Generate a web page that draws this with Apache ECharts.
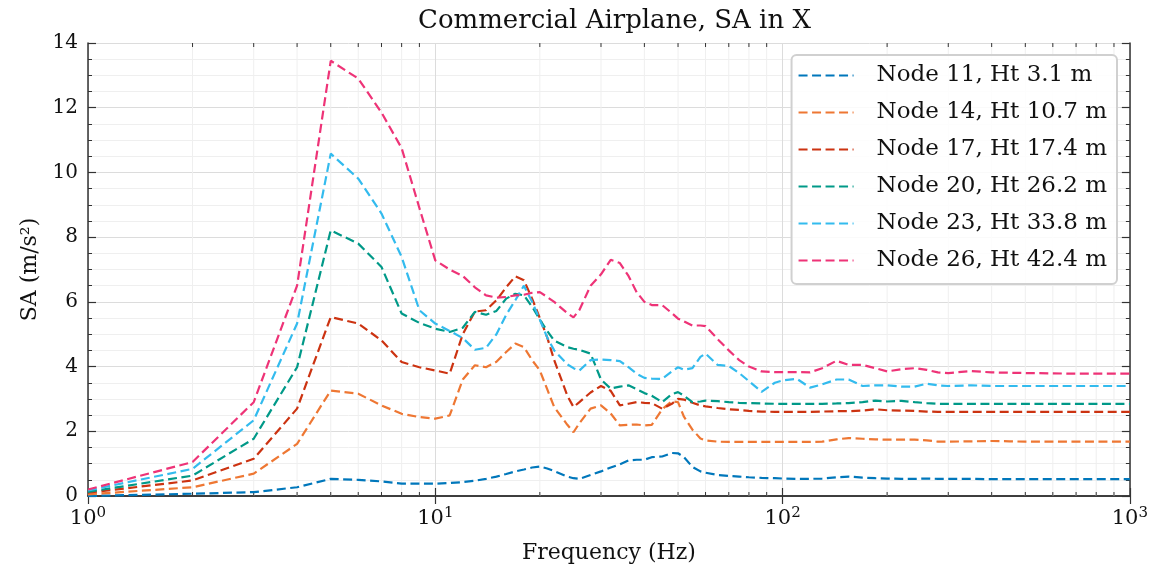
<!DOCTYPE html>
<html>
<head>
<meta charset="utf-8">
<script src="https://cdn.jsdelivr.net/npm/echarts@6/dist/echarts.min.js"></script>
<style>html,body{margin:0;padding:0;background:#fff}#c{width:1151px;height:571px}</style>
</head>
<body>
<div id="c"></div>
<script>
const freqs = [1, 2, 3, 4, 5, 6, 7, 8, 9, 10, 11, 12, 13, 14, 15, 16, 17, 18, 19, 20, 21, 22, 24, 25, 26, 28, 30, 32, 34, 36, 38, 40, 42, 45, 48, 50, 52, 55, 58, 60, 65, 70, 75, 80, 87, 95, 100, 110, 120, 130, 143, 155, 170, 185, 200, 220, 240, 260, 280, 300, 350, 400, 450, 500, 600, 700, 800, 900, 1000];

const node11 = [0.0, 0.07, 0.12, 0.27, 0.53, 0.50, 0.45, 0.38, 0.38, 0.38, 0.40, 0.43, 0.47, 0.53, 0.60, 0.68, 0.76, 0.82, 0.88, 0.91, 0.85, 0.77, 0.60, 0.55, 0.53, 0.65, 0.76, 0.88, 0.98, 1.10, 1.12, 1.12, 1.20, 1.22, 1.33, 1.32, 1.20, 0.90, 0.76, 0.72, 0.65, 0.62, 0.60, 0.58, 0.56, 0.55, 0.54, 0.53, 0.53, 0.54, 0.58, 0.60, 0.57, 0.55, 0.54, 0.53, 0.53, 0.54, 0.53, 0.53, 0.53, 0.52, 0.52, 0.52, 0.52, 0.52, 0.52, 0.52, 0.52];

const node14 = [0.05, 0.27, 0.69, 1.61, 3.26, 3.16, 2.80, 2.54, 2.44, 2.39, 2.49, 3.60, 4.04, 3.98, 4.15, 4.45, 4.71, 4.60, 4.20, 3.88, 3.30, 2.75, 2.20, 1.97, 2.25, 2.70, 2.80, 2.55, 2.18, 2.20, 2.21, 2.18, 2.20, 2.68, 2.93, 2.90, 2.45, 2.05, 1.78, 1.72, 1.68, 1.67, 1.67, 1.67, 1.67, 1.67, 1.67, 1.67, 1.67, 1.68, 1.75, 1.79, 1.77, 1.75, 1.74, 1.74, 1.74, 1.72, 1.68, 1.68, 1.69, 1.70, 1.69, 1.68, 1.68, 1.68, 1.68, 1.68, 1.68];

const node17 = [0.10, 0.48, 1.15, 2.70, 5.53, 5.33, 4.81, 4.14, 3.98, 3.88, 3.78, 5.00, 5.70, 5.74, 6.05, 6.45, 6.79, 6.67, 6.10, 5.50, 4.90, 4.20, 3.10, 2.75, 2.90, 3.20, 3.40, 3.25, 2.80, 2.85, 2.90, 2.88, 2.87, 2.70, 2.85, 3.00, 2.98, 2.88, 2.80, 2.77, 2.72, 2.68, 2.66, 2.63, 2.61, 2.60, 2.60, 2.60, 2.60, 2.61, 2.62, 2.62, 2.64, 2.68, 2.65, 2.64, 2.63, 2.61, 2.60, 2.60, 2.60, 2.60, 2.60, 2.60, 2.60, 2.60, 2.60, 2.60, 2.60];

const node20 = [0.13, 0.63, 1.77, 3.98, 8.21, 7.80, 7.08, 5.64, 5.35, 5.17, 5.07, 5.20, 5.69, 5.60, 5.72, 6.10, 6.25, 6.20, 5.85, 5.45, 5.10, 4.80, 4.60, 4.55, 4.52, 4.40, 3.60, 3.32, 3.38, 3.42, 3.30, 3.18, 3.10, 2.90, 3.15, 3.21, 3.10, 2.90, 2.92, 2.95, 2.93, 2.90, 2.88, 2.87, 2.86, 2.85, 2.85, 2.85, 2.85, 2.85, 2.86, 2.87, 2.90, 2.95, 2.92, 2.94, 2.90, 2.87, 2.85, 2.85, 2.85, 2.85, 2.85, 2.85, 2.85, 2.85, 2.85, 2.85, 2.85];

const node23 = [0.17, 0.84, 2.34, 5.33, 10.58, 9.81, 8.73, 7.39, 5.74, 5.33, 5.10, 4.88, 4.52, 4.58, 5.00, 5.60, 6.05, 6.50, 6.00, 5.45, 4.90, 4.50, 4.07, 3.95, 3.88, 4.20, 4.22, 4.20, 4.17, 3.98, 3.78, 3.65, 3.63, 3.62, 3.85, 3.98, 3.90, 3.95, 4.30, 4.40, 4.05, 4.02, 3.80, 3.55, 3.22, 3.50, 3.57, 3.62, 3.35, 3.45, 3.60, 3.60, 3.40, 3.42, 3.42, 3.38, 3.38, 3.47, 3.42, 3.40, 3.42, 3.40, 3.40, 3.40, 3.40, 3.40, 3.40, 3.40, 3.40];

const node26 = [0.20, 1.05, 2.90, 6.50, 13.45, 12.90, 11.85, 10.75, 8.90, 7.28, 7.00, 6.80, 6.45, 6.20, 6.13, 6.15, 6.20, 6.22, 6.28, 6.30, 6.15, 6.00, 5.65, 5.52, 5.75, 6.50, 6.85, 7.30, 7.20, 6.80, 6.30, 6.00, 5.90, 5.90, 5.65, 5.48, 5.40, 5.27, 5.27, 5.25, 4.85, 4.50, 4.20, 4.00, 3.85, 3.83, 3.83, 3.83, 3.82, 3.95, 4.18, 4.05, 4.05, 3.95, 3.85, 3.92, 3.95, 3.90, 3.82, 3.80, 3.86, 3.82, 3.81, 3.80, 3.79, 3.78, 3.78, 3.78, 3.78];

const seriesNames = ['Node 11, Ht 3.1 m', 'Node 14, Ht 10.7 m', 'Node 17, Ht 17.4 m', 'Node 20, Ht 26.2 m', 'Node 23, Ht 33.8 m', 'Node 26, Ht 42.4 m'];
const seriesValues = [node11, node14, node17, node20, node23, node26];
const colors = ['#0077BB', '#EE7733', '#CC3311', '#009988', '#33BBEE', '#EE3377'];

const titleText = 'Commercial Airplane, SA in X';
const xName = 'Frequency (Hz)';
const yName = 'SA (m/s\u00B2)';
const yMin = 0, yMax = 14, yStep = 2;
const xMin = 1, xMax = 1000;

const minorFreqs = [];
for (let d = 1; d < xMax; d *= 10) for (let k = 2; k <= 9; k++) minorFreqs.push(k * d);

const FONT = '"DejaVu Serif", "Liberation Serif", serif';

const lineSeries = seriesNames.map((name, i) => ({
  name: name,
  type: 'line',
  data: freqs.map((f, j) => [f, seriesValues[i][j]]),
  showSymbol: false,
  symbol: 'none',
  lineStyle: { color: colors[i], width: 2.2, type: [9, 4.5] },
  itemStyle: { color: colors[i] },
  z: 5,
  animation: false
}));

const minorSeries = {
  type: 'custom',
  silent: true,
  z: 1,
  data: minorFreqs.map(f => [f, 0]),
  encode: { x: 0, y: 1 },
  renderItem: function (params, api) {
    const f = api.value(0);
    const pb = api.coord([f, yMin]);
    const pt = api.coord([f, yMax]);
    return {
      type: 'group',
      children: [
        { type: 'line', shape: { x1: pb[0], y1: pb[1], x2: pt[0], y2: pt[1] }, style: { stroke: '#efefef', lineWidth: 1 } },
        { type: 'line', shape: { x1: pb[0], y1: pb[1], x2: pb[0], y2: pb[1] - 4 }, style: { stroke: '#333', lineWidth: 1 }, z2: 10 },
        { type: 'line', shape: { x1: pt[0], y1: pt[1], x2: pt[0], y2: pt[1] + 4 }, style: { stroke: '#333', lineWidth: 1 }, z2: 10 }
      ]
    };
  },
  animation: false
};

const chart = echarts.init(document.getElementById('c'), null, { renderer: 'canvas' });
chart.setOption({
  animation: false,
  backgroundColor: '#fff',
  color: colors,
  title: {
    text: titleText,
    left: 413,
    top: 3,
    textStyle: { fontFamily: FONT, fontWeight: 'normal', fontSize: 26, color: '#111' }
  },
  grid: { left: 88, right: 18, top: 43, bottom: 75, containLabel: false },
  legend: {
    orient: 'vertical',
    right: 34,
    top: 55,
    data: seriesNames,
    itemWidth: 55,
    itemHeight: 14,
    itemGap: 14,
    padding: [9, 10, 12, 6],
    backgroundColor: 'rgba(255,255,255,0.85)',
    borderColor: '#d0d0d0',
    borderWidth: 2,
    borderRadius: 5,
    itemStyle: { opacity: 0 },
    textStyle: { fontFamily: FONT, fontSize: 23, color: '#111', padding: [0, 0, 0, 18] },
    z: 10
  },
  xAxis: [
    {
      type: 'log', logBase: 10, min: xMin, max: xMax, position: 'bottom',
      name: xName, nameLocation: 'middle', nameGap: 46,
      nameTextStyle: { fontFamily: FONT, fontSize: 22, color: '#111' },
      axisLine: { show: true, lineStyle: { color: '#333', width: 1.5 } },
      axisTick: { show: true, inside: true, length: 8, lineStyle: { color: '#333', width: 1.2 } },
      axisLabel: {
        margin: 10,
        formatter: function (v) { return '{b|10}{s|' + Math.round(Math.log10(v)) + '}'; },
        rich: {
          b: { fontFamily: FONT, fontSize: 21, color: '#111' },
          s: { fontFamily: FONT, fontSize: 15, color: '#111', verticalAlign: 'top', padding: [0, 0, 10, 0] }
        }
      },
      splitLine: { show: true, lineStyle: { color: '#dcdcdc', width: 1 } }
    },
    {
      type: 'log', logBase: 10, min: xMin, max: xMax, position: 'top',
      axisLine: { show: true, lineStyle: { color: '#333', width: 1.5 } },
      axisTick: { show: true, inside: true, length: 8, lineStyle: { color: '#333', width: 1.2 } },
      axisLabel: { show: false },
      splitLine: { show: false }
    }
  ],
  yAxis: [
    {
      type: 'value', min: yMin, max: yMax, interval: yStep, position: 'left',
      name: yName, nameLocation: 'middle', nameGap: 47,
      nameTextStyle: { fontFamily: FONT, fontSize: 22, color: '#111' },
      axisLine: { show: true, lineStyle: { color: '#333', width: 1.5 } },
      axisTick: { show: true, inside: true, length: 8, lineStyle: { color: '#333', width: 1.2 } },
      minorTick: { show: true, splitNumber: 4, length: 4, lineStyle: { color: '#333', width: 1 } },
      minorSplitLine: { show: true, lineStyle: { color: '#efefef', width: 1 } },
      axisLabel: { fontFamily: FONT, fontSize: 20, color: '#111', margin: 10 },
      splitLine: { show: true, lineStyle: { color: '#dcdcdc', width: 1 } }
    },
    {
      type: 'value', min: yMin, max: yMax, interval: yStep, position: 'right',
      axisLine: { show: true, lineStyle: { color: '#333', width: 1.5 } },
      axisTick: { show: true, inside: true, length: 8, lineStyle: { color: '#333', width: 1.2 } },
      minorTick: { show: true, splitNumber: 4, length: 4, lineStyle: { color: '#333', width: 1 } },
      axisLabel: { show: false },
      splitLine: { show: false }
    }
  ],
  series: [minorSeries].concat(lineSeries)
});
</script>
</body>
</html>
